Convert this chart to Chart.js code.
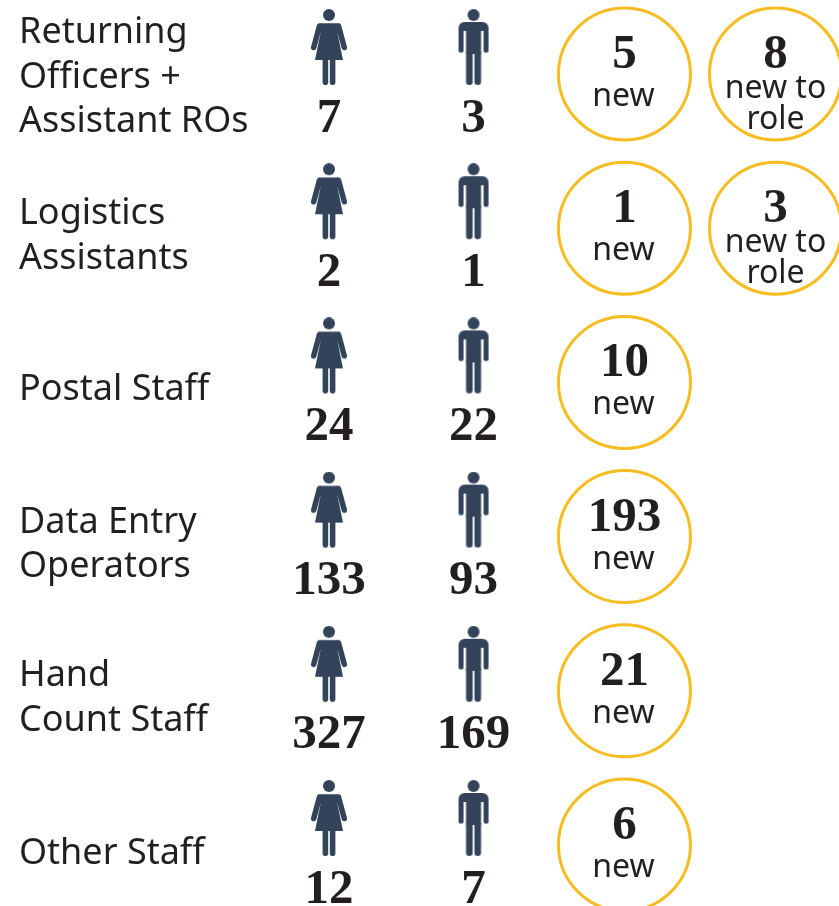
<!DOCTYPE html>
<html>
<head>
<meta charset="utf-8">
<title>Staff</title>
<script src="https://cdn.jsdelivr.net/npm/chart.js@4"></script>
<style>
  html, body { margin: 0; padding: 0; background: #fff; overflow: hidden; }
  canvas { display: block; }
</style>
</head>
<body>
<canvas id="staffChart" width="839" height="906"></canvas>
<script>
const rows = ['Returning Officers + Assistant ROs', 'Logistics Assistants', 'Postal Staff', 'Data Entry Operators', 'Hand Count Staff', 'Other Staff'];
const rowLines = [['Returning', 'Officers +', 'Assistant ROs'], ['Logistics', 'Assistants'], ['Postal Staff'], ['Data Entry', 'Operators'], ['Hand', 'Count Staff'], ['Other Staff']];
const columns = ['Women', 'Men', 'New', 'New to role'];
const women = [7, 2, 24, 133, 327, 12];
const men = [3, 1, 22, 93, 169, 7];
const newStaff = [5, 1, 10, 193, 21, 6];
const newToRole = [8, 3, null, null, null, null];

const NAVY = '#33445a';
const INK = '#231f20';
const YELLOW = '#f6bd22';
const TEXT_FONT = '"Noto Sans"';
const NUM_FONT = 'bold 49px "Liberation Serif"';

// icon sits in the top of a tall transparent image so the point stays on the row centre
function figure(draw) {
  const c = document.createElement('canvas');
  c.width = 44;
  c.height = 130;
  const g = c.getContext('2d');
  g.translate(22, 0);
  g.fillStyle = NAVY;
  g.strokeStyle = NAVY;
  g.lineCap = 'round';
  g.beginPath();
  g.arc(0, 6, 6, 0, Math.PI * 2);
  g.fill();
  draw(g);
  return c;
}

function line(g, x1, y1, x2, y2, w) {
  g.lineWidth = w;
  g.beginPath();
  g.moveTo(x1, y1);
  g.lineTo(x2, y2);
  g.stroke();
}

const womanIcon = figure(g => {
  g.beginPath();
  g.moveTo(-8, 14.3);
  g.lineTo(8, 14.3);
  g.quadraticCurveTo(10.5, 14.5, 11, 18);
  g.lineTo(10, 24);
  g.lineTo(8.5, 24);
  g.lineTo(14, 51);
  g.lineTo(-14, 51);
  g.lineTo(-8.5, 24);
  g.lineTo(-10, 24);
  g.lineTo(-11, 18);
  g.quadraticCurveTo(-10.5, 14.5, -8, 14.3);
  g.fill();
  [-1, 1].forEach(s => {
    line(g, s * 9.5, 17, s * 15.3, 38.5, 5.5);
    line(g, s * 3.6, 50, s * 3.6, 73.2, 5.6);
  });
});

const manIcon = figure(g => {
  g.beginPath();
  g.roundRect(-15, 13, 30, 9, [6, 6, 0, 0]);
  g.fill();
  g.fillRect(-7.5, 15, 15, 30);
  [-1, 1].forEach(s => {
    line(g, s * 12.5, 20, s * 12.5, 41.2, 5);
    line(g, s * 4.2, 44, s * 4.2, 72.8, 6.6);
  });
});

function rowPoints(column, values) {
  return values
    .map((v, i) => (v === null ? null : { x: column, y: rows[i], value: v }))
    .filter(Boolean);
}

function iconSet(column, values, icon, nudge) {
  return { data: rowPoints(column, values), pointStyle: icon, clip: false, kind: 'icon', nudge };
}

function ringSet(column, values, caption, nudge) {
  return {
    data: rowPoints(column, values),
    pointStyle: 'circle',
    pointRadius: 66,
    borderWidth: 3,
    borderColor: YELLOW,
    backgroundColor: '#fff',
    clip: false,
    kind: 'ring',
    caption,
    nudge
  };
}

// nudges for the left hand labels, the blocks are not quite on the row centre
const labelShift = [1, 6, 5, 6, 5, 6];

const textPlugin = {
  id: 'staffText',
  // columns in the original are not evenly spaced
  beforeDatasetDraw(chart, args) {
    chart.ctx.save();
    chart.ctx.translate(chart.data.datasets[args.index].nudge, 0);
  },
  afterDatasetDraw(chart) {
    chart.ctx.restore();
  },
  afterDatasetsDraw(chart) {
    const ctx = chart.ctx;
    ctx.save();
    ctx.fillStyle = INK;
    ctx.textAlign = 'left';
    ctx.textBaseline = 'alphabetic';
    ctx.font = '36px ' + TEXT_FONT;
    rows.forEach((r, i) => {
      const y = chart.scales.y.getPixelForValue(i) + labelShift[i];
      rowLines[i].forEach((t, j) => {
        ctx.fillText(t, 19, y + (j - (rowLines[i].length - 1) / 2) * 44.5 + 12.5);
      });
    });

    ctx.textAlign = 'center';
    chart.data.datasets.forEach((ds, d) => {
      chart.getDatasetMeta(d).data.forEach((pt, i) => {
        const x = pt.x + ds.nudge;
        ctx.font = NUM_FONT;
        const num = String(ds.data[i].value);
        if (ds.kind === 'icon') {
          ctx.fillText(num, x, pt.y + 57.5);
        } else {
          ctx.fillText(num, x, pt.y - 6);
          ctx.font = '32px ' + TEXT_FONT;
          if (ds.caption.length === 1) {
            ctx.fillText(ds.caption[0], x - 1, pt.y + 32);
          } else {
            ctx.fillText(ds.caption[0], x, pt.y + 24);
            ctx.fillText(ds.caption[1], x, pt.y + 55);
          }
        }
      });
    });
    ctx.restore();
  }
};

new Chart(document.getElementById('staffChart'), {
  type: 'scatter',
  data: {
    datasets: [
      iconSet('Women', women, womanIcon, 0),
      iconSet('Men', men, manIcon, -4.3),
      ringSet('New', newStaff, ['new'], -2.2),
      ringSet('New to role', newToRole, ['new to', 'role'], 0)
    ]
  },
  options: {
    responsive: false,
    animation: false,
    events: [],
    layout: { autoPadding: false, padding: { left: 329, right: 63.5, top: 74, bottom: 61 } },
    plugins: { legend: { display: false }, tooltip: { enabled: false } },
    scales: {
      x: { type: 'category', labels: columns, offset: false, display: false },
      y: { type: 'category', labels: rows, offset: false, display: false }
    }
  },
  plugins: [textPlugin]
});
</script>
</body>
</html>
